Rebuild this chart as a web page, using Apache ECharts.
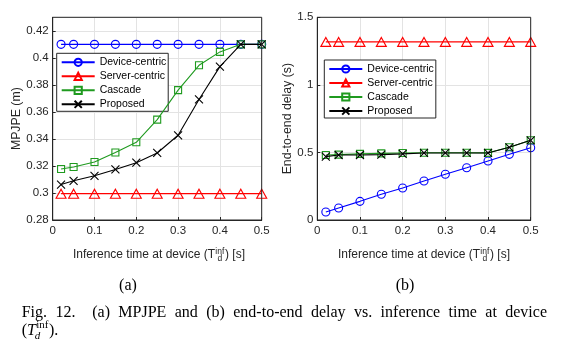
<!DOCTYPE html>
<html>
<head>
<meta charset="utf-8">
<script src="https://cdn.jsdelivr.net/npm/echarts@6/dist/echarts.min.js"></script>
<style>
html,body{margin:0;padding:0;background:#fff;}
#c{width:562px;height:355px;}
</style>
</head>
<body>
<div id="c"></div>
<script>
// ---- data ----
const xVals = [0.02, 0.05, 0.1, 0.15, 0.2, 0.25, 0.3, 0.35, 0.4, 0.45, 0.5];
const seriesNames = ['Device-centric', 'Server-centric', 'Cascade', 'Proposed'];
// (a) MPJPE (m)
const mpjpeDevice  = [0.41, 0.41, 0.41, 0.41, 0.41, 0.41, 0.41, 0.41, 0.41, 0.41, 0.41];
const mpjpeServer  = [0.2995, 0.2995, 0.2995, 0.2995, 0.2995, 0.2995, 0.2995, 0.2995, 0.2995, 0.2995, 0.2995];
const mpjpeCascade = [0.3177, 0.3192, 0.3229, 0.330, 0.3375, 0.3543, 0.3761, 0.3945, 0.4044, 0.41, 0.41];
const mpjpeProposed= [0.3062, 0.309, 0.3127, 0.3174, 0.3224, 0.3296, 0.3427, 0.3692, 0.3935, 0.41, 0.41];
// (b) End-to-end delay (s)
const delayDevice  = [0.059, 0.089, 0.138, 0.19, 0.237, 0.289, 0.338, 0.387, 0.437, 0.486, 0.535];
const delayServer  = [1.318, 1.318, 1.318, 1.318, 1.318, 1.318, 1.318, 1.318, 1.318, 1.318, 1.318];
const delayCascade = [0.481, 0.484, 0.489, 0.493, 0.496, 0.498, 0.498, 0.498, 0.497, 0.538, 0.59];
const delayProposed= [0.469, 0.481, 0.481, 0.484, 0.489, 0.496, 0.496, 0.496, 0.496, 0.538, 0.59];
// axis ticks
const xTicks = {min: 0, max: 0.5, interval: 0.1};
const yTicksA = {min: 0.28, max: 0.43, interval: 0.02};
const yTicksB = {min: 0, max: 1.5, interval: 0.5};
const xTitleMain = 'Inference time at device (T';
const xTitleEnd = ') [s]';
const captionA = '(a)', captionB = '(b)';
const captionLine1 = 'Fig. 12.  (a) MPJPE and (b) end-to-end delay vs. inference time at device';

// ---- styles ----
const AX = '#262626';
const SANS = '"Liberation Sans", Arial, sans-serif';
const SERIF = '"Liberation Serif", "Times New Roman", serif';
const styles = [
  {color: '#0000ff', symbol: 'circle', size: 8},
  {color: '#ff0000', symbol: 'triangle', size: [10, 9]},
  {color: '#1f9a1f', symbol: 'rect', size: 7},
  {color: '#000000', symbol: 'path://M0,0L10,10M10,0L0,10', size: 8}
];

function mk(name, idx, data, axisIdx) {
  const s = styles[idx];
  return {
    name: name, type: 'line', xAxisIndex: axisIdx, yAxisIndex: axisIdx,
    data: xVals.map((x, i) => [x, data[i]]),
    symbol: s.symbol, symbolSize: s.size, showAllSymbol: true,
    lineStyle: {color: s.color, width: 1.1},
    itemStyle: {color: 'rgba(0,0,0,0)', borderColor: s.color, borderWidth: 1.1},
    emphasis: {disabled: true}, animation: false, z: 2 + idx
  };
}

const grids = [
  {left: 52.7, top: 17.3, width: 209, height: 202.7},
  {left: 317.3, top: 17.3, width: 213.4, height: 202.7}
];

function xAxis(gi) {
  return {
    type: 'value', gridIndex: gi, min: xTicks.min, max: xTicks.max, interval: xTicks.interval,
    axisLine: {show: true, onZero: false, lineStyle: {color: AX, width: 1}},
    axisTick: {show: true, inside: true, length: 3, lineStyle: {color: AX}},
    axisLabel: {color: AX, fontFamily: SANS, fontSize: 11.5, margin: 5},
    splitLine: {show: true, lineStyle: {color: '#e3e3e3', width: 1}}
  };
}
function yAxis(gi, t, name, gap) {
  return {
    type: 'value', gridIndex: gi, min: t.min, max: t.max, interval: t.interval,
    name: name, nameLocation: 'middle', nameGap: gap,
    nameTextStyle: {color: AX, fontFamily: SANS, fontSize: 12.3},
    axisLine: {show: true, onZero: false, lineStyle: {color: AX, width: 1}},
    axisTick: {show: true, inside: true, length: 3, lineStyle: {color: AX}},
    axisLabel: {color: AX, fontFamily: SANS, fontSize: 11.5, margin: 4, showMaxLabel: t.max === 1.5,
      formatter: v => (Math.abs(v - 0.43) < 1e-9 ? '' : String(+v.toFixed(2)))},
    splitLine: {show: true, lineStyle: {color: '#e3e3e3', width: 1}}
  };
}

// ---- text measurement for sub/superscript layout ----
const cv = document.createElement('canvas').getContext('2d');
function tw(txt, font) { cv.font = font; return cv.measureText(txt).width; }

const graphics = [];
grids.forEach(g => {
  graphics.push({type: 'rect', shape: {x: g.left, y: g.top, width: g.width, height: g.height},
    style: {fill: 'none', stroke: AX, lineWidth: 1}, z: 100, silent: true});
});

function xTitle(xCenter, yMid) {
  const f = '12px ' + SANS, fs = '8.5px ' + SANS;
  const w1 = tw(xTitleMain, f);
  const wi = tw('inf', fs), wd = tw('d', fs);
  const w2 = Math.max(wi, wd);
  const w3 = tw(xTitleEnd, f);
  const total = w1 + w2 + 1 + w3;
  const x0 = xCenter - total / 2;
  graphics.push({type: 'text', x: x0, y: yMid, style: {text: xTitleMain, font: f, fill: AX, textVerticalAlign: 'middle'}});
  graphics.push({type: 'text', x: x0 + w1 + 0.3, y: yMid - 3.5, style: {text: 'inf', font: fs, fill: AX, textVerticalAlign: 'middle'}});
  graphics.push({type: 'text', x: x0 + w1 + 0.3 + (wi - wd) / 2, y: yMid + 4, style: {text: 'd', font: fs, fill: AX, textVerticalAlign: 'middle'}});
  graphics.push({type: 'text', x: x0 + w1 + w2 + 1, y: yMid, style: {text: xTitleEnd, font: f, fill: AX, textVerticalAlign: 'middle'}});
}
xTitle(159, 255);
xTitle(424, 255);

// captions
const CF = 16;
const cf = CF + 'px ' + SERIF;
graphics.push({type: 'text', x: 128, y: 286, style: {text: captionA, font: cf, fill: '#000', textAlign: 'center', textVerticalAlign: 'middle'}});
graphics.push({type: 'text', x: 405, y: 286, style: {text: captionB, font: cf, fill: '#000', textAlign: 'center', textVerticalAlign: 'middle'}});
(function () {
  const f = cf;
  const words = captionLine1.split(/\s+/);
  const left = 21.7, right = 547;
  const total = words.reduce((a, w) => a + tw(w, f), 0);
  const gaps = words.length - 1 + 1;
  const g = (right - left - total) / gaps;
  let x = left;
  words.forEach((w, i) => {
    graphics.push({type: 'text', x: x, y: 313, style: {text: w, font: f, fill: '#000', textVerticalAlign: 'middle'}});
    x += tw(w, f) + g * (i === 1 ? 2 : 1);
  });
  const fi = 'italic ' + CF + 'px ' + SERIF, fsub = 'italic 11px ' + SERIF, fsup = '11px ' + SERIF;
  let x2 = left;
  graphics.push({type: 'text', x: x2, y: 331, style: {text: '(', font: f, fill: '#000', textVerticalAlign: 'middle'}});
  x2 += tw('(', f);
  graphics.push({type: 'text', x: x2, y: 331, style: {text: 'T', font: fi, fill: '#000', textVerticalAlign: 'middle'}});
  x2 += tw('T', fi) + 0.3;
  graphics.push({type: 'text', x: x2, y: 325.5, style: {text: 'inf', font: fsup, fill: '#000', textVerticalAlign: 'middle'}});
  graphics.push({type: 'text', x: x2 - 1.5, y: 336.5, style: {text: 'd', font: fsub, fill: '#000', textVerticalAlign: 'middle'}});
  x2 += tw('inf', fsup) + 0.5;
  graphics.push({type: 'text', x: x2, y: 331, style: {text: ').', font: f, fill: '#000', textVerticalAlign: 'middle'}});
})();

function legend(left, top) {
  return {
    orient: 'vertical', left: left, top: top, data: seriesNames,
    itemWidth: 33, itemHeight: 9, itemGap: 0, padding: [2, 2, 0, 4],
    borderColor: AX, borderWidth: 1, backgroundColor: '#fff', borderRadius: 0,
    textStyle: {color: '#000', fontFamily: SANS, fontSize: 10.5, lineHeight: 14},
    selectedMode: false
  };
}

const chart = echarts.init(document.getElementById('c'), null, {renderer: 'canvas'});
chart.setOption({
  animation: false,
  backgroundColor: '#fff',
  grid: grids,
  xAxis: [xAxis(0), xAxis(1)],
  yAxis: [yAxis(0, yTicksA, 'MPJPE (m)', 26), yAxis(1, yTicksB, 'End-to-end delay (s)', 20.5)],
  legend: [legend(56.7, 53.3), legend(324.3, 60)],
  series: [
    mk(seriesNames[0], 0, mpjpeDevice, 0),
    mk(seriesNames[1], 1, mpjpeServer, 0),
    mk(seriesNames[2], 2, mpjpeCascade, 0),
    mk(seriesNames[3], 3, mpjpeProposed, 0),
    mk(seriesNames[0], 0, delayDevice, 1),
    mk(seriesNames[1], 1, delayServer, 1),
    mk(seriesNames[2], 2, delayCascade, 1),
    mk(seriesNames[3], 3, delayProposed, 1)
  ],
  graphic: graphics
});
</script>
</body>
</html>
